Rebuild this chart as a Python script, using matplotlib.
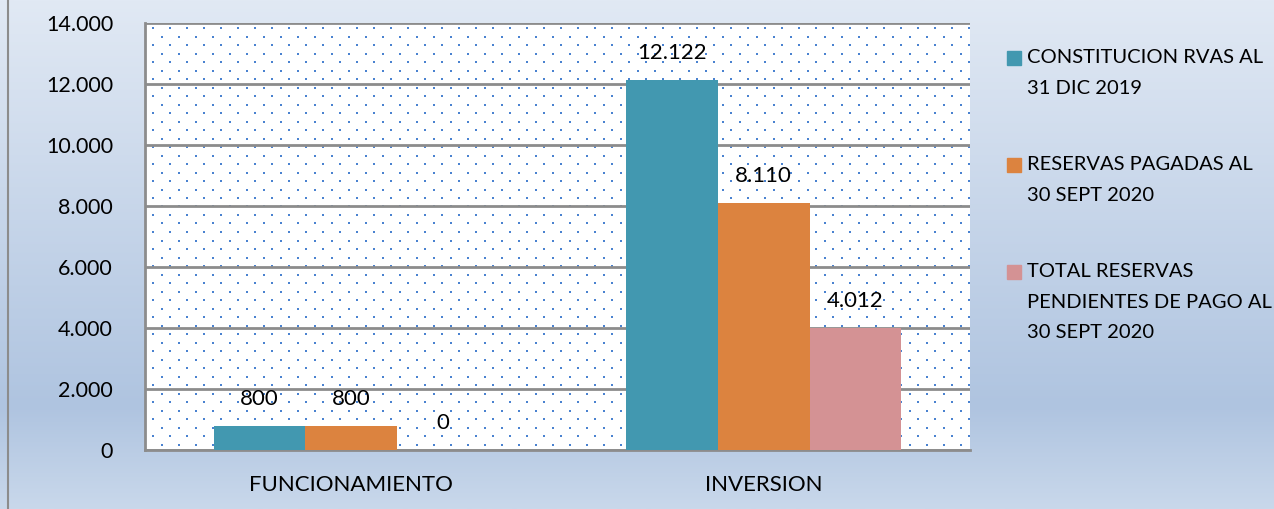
import numpy as np
import matplotlib.pyplot as plt
from matplotlib.colors import LinearSegmentedColormap
from matplotlib.patches import Rectangle

categories = ["FUNCIONAMIENTO", "INVERSION"]
series_names = ["CONSTITUCION RVAS AL\n31 DIC 2019",
                "RESERVAS PAGADAS AL\n30 SEPT 2020",
                "TOTAL RESERVAS\nPENDIENTES DE PAGO AL\n30 SEPT 2020"]
constitucion = [800, 12122]
pagadas = [800, 8110]
pendientes = [0, 4012]
colors = ["#4298b0", "#dc833f", "#d49294"]

plt.rcParams['font.family'] = ['Lato', 'DejaVu Sans']

fig = plt.figure(figsize=(12.74, 5.09), dpi=100)

# background gradient for the whole chart area
bg = fig.add_axes([0, 0, 1, 1], zorder=-10)
cmap = LinearSegmentedColormap.from_list(
    "bg", [(0, "#e1e9f4"), (0.8, "#afc4e0"), (1.0, "#c9d8eb")])
grad = np.linspace(0, 1, 256).reshape(-1, 1)
bg.imshow(grad, aspect="auto", cmap=cmap, extent=[0, 1, 0, 1], origin="upper")
bg.axvline(8 / 1274, color="#8c8c8c", lw=1.5)
bg.set_xlim(0, 1)
bg.set_ylim(0, 1)
bg.axis("off")

ax = fig.add_axes([145 / 1274, 1 - 450 / 509, 825 / 1274, 427 / 509])
ax.set_facecolor("white")

# dotted fill pattern
w_px, h_px = 825, 427
gx, gy = np.meshgrid(np.arange(8, w_px, 17), np.arange(5, h_px, 17))
ax.scatter(gx.ravel() / w_px, 1 - gy.ravel() / h_px, s=3.2, color="#4a82d0",
           marker="s", lw=0, transform=ax.transAxes, zorder=0)
gx2, gy2 = np.meshgrid(np.arange(16.5, w_px, 17), np.arange(13.5, h_px, 17))
ax.scatter(gx2.ravel() / w_px, 1 - gy2.ravel() / h_px, s=1.0, color="#4a82d0",
           marker="s", lw=0, transform=ax.transAxes, zorder=0)

x = np.arange(len(categories))
bw = 0.222
for i, vals in enumerate([constitucion, pagadas, pendientes]):
    xs = x + (i - 1) * bw
    ax.bar(xs, vals, width=bw, color=colors[i], zorder=3)
    for xi, v in zip(xs, vals):
        ax.annotate(f"{v:,}".replace(",", "."), (xi, v), xytext=(0, 27),
                    textcoords="offset pixels", ha="center", va="center",
                    fontsize=16, color="#000000", zorder=4)

ax.set_xlim(-0.5, 1.5)
ax.set_ylim(0, 14000)
ax.set_yticks(range(0, 14001, 2000))
ax.set_yticklabels([f"{v:,}".replace(",", ".") for v in range(0, 14001, 2000)])
ax.set_xticks(x)
ax.set_xticklabels(categories)
ax.tick_params(axis="y", length=0, pad=23, labelsize=15.5)
ax.tick_params(axis="x", length=0, pad=18, labelsize=16)
ax.yaxis.grid(True, color="#8c8c8c", lw=2)
ax.set_axisbelow(True)
for s in ["top", "right"]:
    ax.spines[s].set_visible(False)
ax.spines["left"].set_color("#8c8c8c")
ax.spines["left"].set_linewidth(2)
ax.spines["bottom"].set_color("#8c8c8c")
ax.spines["bottom"].set_linewidth(2)

# legend
legend_top = [58, 165, 272]
for name, col, ty in zip(series_names, colors, legend_top):
    fig.patches.append(Rectangle((1007 / 1274, 1 - (ty + 7) / 509), 14 / 1274, 14 / 509,
                                 transform=fig.transFigure, color=col))
    fig.text(1027 / 1274, 1 - (ty - 9) / 509, name, ha="left", va="top",
             fontsize=14.5, linespacing=1.98)

fig.savefig("out.png", dpi=100)
